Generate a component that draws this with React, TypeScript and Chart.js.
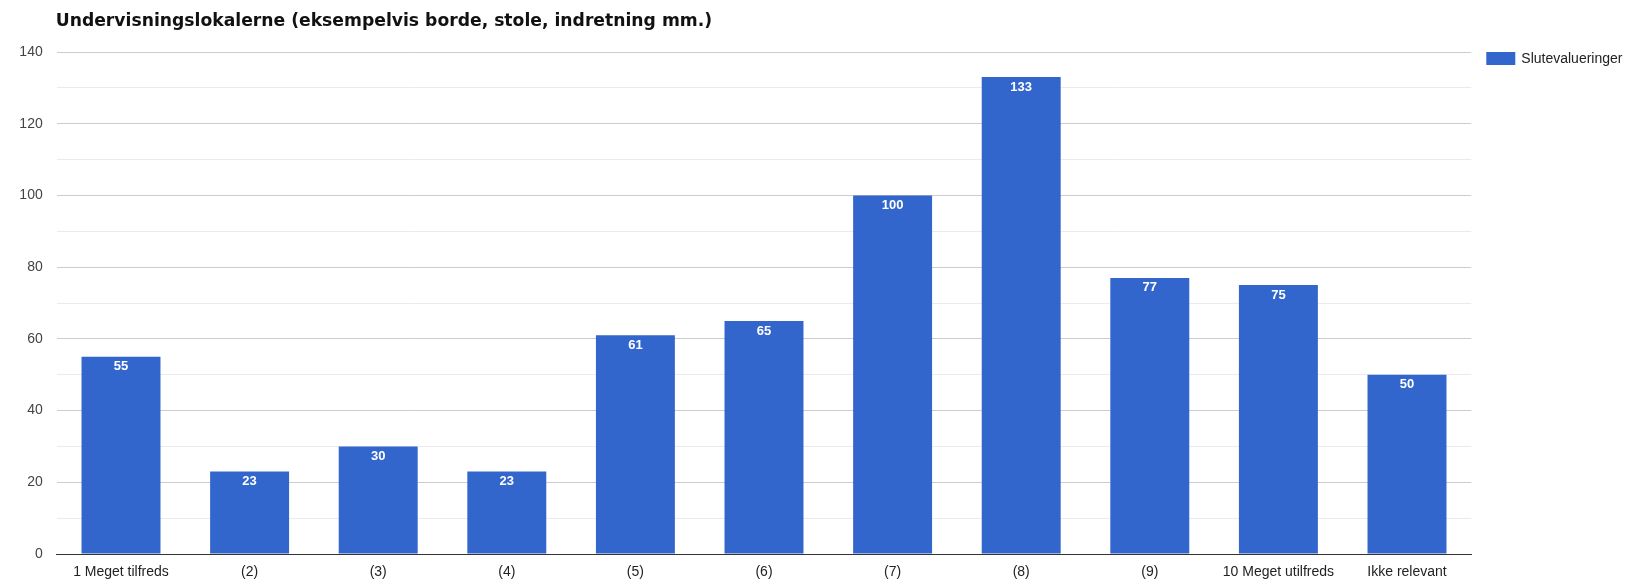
import React, { useEffect, useRef } from "react";
import { Chart, registerables } from "chart.js";

Chart.register(...registerables);

const TITLE = "Undervisningslokalerne (eksempelvis borde, stole, indretning mm.)";
const CATEGORIES = [
  "1 Meget tilfreds",
  "(2)",
  "(3)",
  "(4)",
  "(5)",
  "(6)",
  "(7)",
  "(8)",
  "(9)",
  "10 Meget utilfreds",
  "Ikke relevant",
];
const SERIES_LABEL = "Slutevalueringer";
const SERIES_VALUES = [55, 23, 30, 23, 61, 65, 100, 133, 77, 75, 50];
const Y_MIN = 0;
const Y_MAX = 140;
const Y_STEP = 10;
const Y_LABEL_STEP = 20;

const BAR_COLOR = "#3366CC";
const W = 1639;
const H = 582;

const titlePlugin = {
  id: "customTitle",
  afterDraw(chart: any) {
    const ctx = chart.ctx;
    const a = chart.chartArea;
    ctx.save();
    ctx.font = "bold 17.2px 'DejaVu Sans', Verdana, sans-serif";
    ctx.fillStyle = "#111";
    ctx.textAlign = "left";
    ctx.textBaseline = "alphabetic";
    ctx.fillText(TITLE, a.left - 1, a.top - 26);
    ctx.restore();
  },
};

const legendPlugin = {
  id: "customLegend",
  afterDraw(chart: any) {
    const ctx = chart.ctx;
    const a = chart.chartArea;
    const ds = chart.data.datasets[0];
    const x = a.right + 15;
    const y = a.top;
    ctx.save();
    ctx.fillStyle = ds.backgroundColor;
    ctx.fillRect(x, y, 29, 13);
    ctx.font = "14px 'Liberation Sans', Arial, sans-serif";
    ctx.fillStyle = "#222";
    ctx.textAlign = "left";
    ctx.textBaseline = "middle";
    ctx.fillText(ds.label, x + 35, y + 7);
    ctx.restore();
  },
};

const valueLabelPlugin = {
  id: "valueLabels",
  afterDatasetsDraw(chart: any) {
    const ctx = chart.ctx;
    const meta = chart.getDatasetMeta(0);
    const data = chart.data.datasets[0].data;
    ctx.save();
    ctx.font = "bold 13px 'Liberation Sans', Arial, sans-serif";
    ctx.fillStyle = "#ffffff";
    ctx.textAlign = "center";
    ctx.textBaseline = "middle";
    meta.data.forEach((bar: any, i: number) => {
      ctx.fillText(String(data[i]), bar.x, bar.y + 10);
    });
    ctx.restore();
  },
};

export default function App() {
  const ref = useRef<HTMLCanvasElement | null>(null);
  useEffect(() => {
    if (!ref.current) return;
    const chart = new Chart(ref.current, {
      type: "bar",
      data: {
        labels: CATEGORIES,
        datasets: [
          {
            label: SERIES_LABEL,
            data: SERIES_VALUES,
            backgroundColor: BAR_COLOR,
            borderWidth: 0,
            categoryPercentage: 1,
            barPercentage: 0.614,
          },
        ],
      },
      options: {
        animation: false,
        responsive: false,
        maintainAspectRatio: false,
        layout: { padding: { left: 0, top: 52, right: 167.7, bottom: 0 } },
        plugins: {
          legend: { display: false },
          title: { display: false },
          tooltip: { enabled: false },
        },
        scales: {
          x: {
            grid: { display: false, drawTicks: false },
            border: { display: true, color: "#333333", width: 1 },
            ticks: {
              color: "#222222",
              padding: 10,
              maxRotation: 0,
              autoSkip: false,
              font: { family: "'Liberation Sans', Arial, sans-serif", size: 14 },
            },
            afterFit(scale: any) {
              scale.height = 28;
            },
          },
          y: {
            min: Y_MIN,
            max: Y_MAX,
            border: { display: false },
            grid: {
              drawTicks: false,
              color: (c: any) => {
                const v = c.tick ? c.tick.value : 0;
                if (v === 0) return "rgba(0,0,0,0)";
                return v % Y_LABEL_STEP === 0 ? "#cccccc" : "#ebebeb";
              },
            },
            ticks: {
              stepSize: Y_STEP,
              padding: 14,
              color: "#444444",
              font: { family: "'Liberation Sans', Arial, sans-serif", size: 14 },
              callback: (v: any) => (Number(v) % Y_LABEL_STEP === 0 ? String(v) : ""),
            },
            afterFit(scale: any) {
              scale.width = 56.7;
            },
          },
        },
      },
      plugins: [titlePlugin, legendPlugin, valueLabelPlugin],
    });
    return () => chart.destroy();
  }, []);

  return (
    <div style={{ position: "fixed", left: 0, top: 0, width: W, height: H, background: "#fff" }}>
      <canvas ref={ref} width={W} height={H} style={{ width: W, height: H, display: "block" }} />
    </div>
  );
}
